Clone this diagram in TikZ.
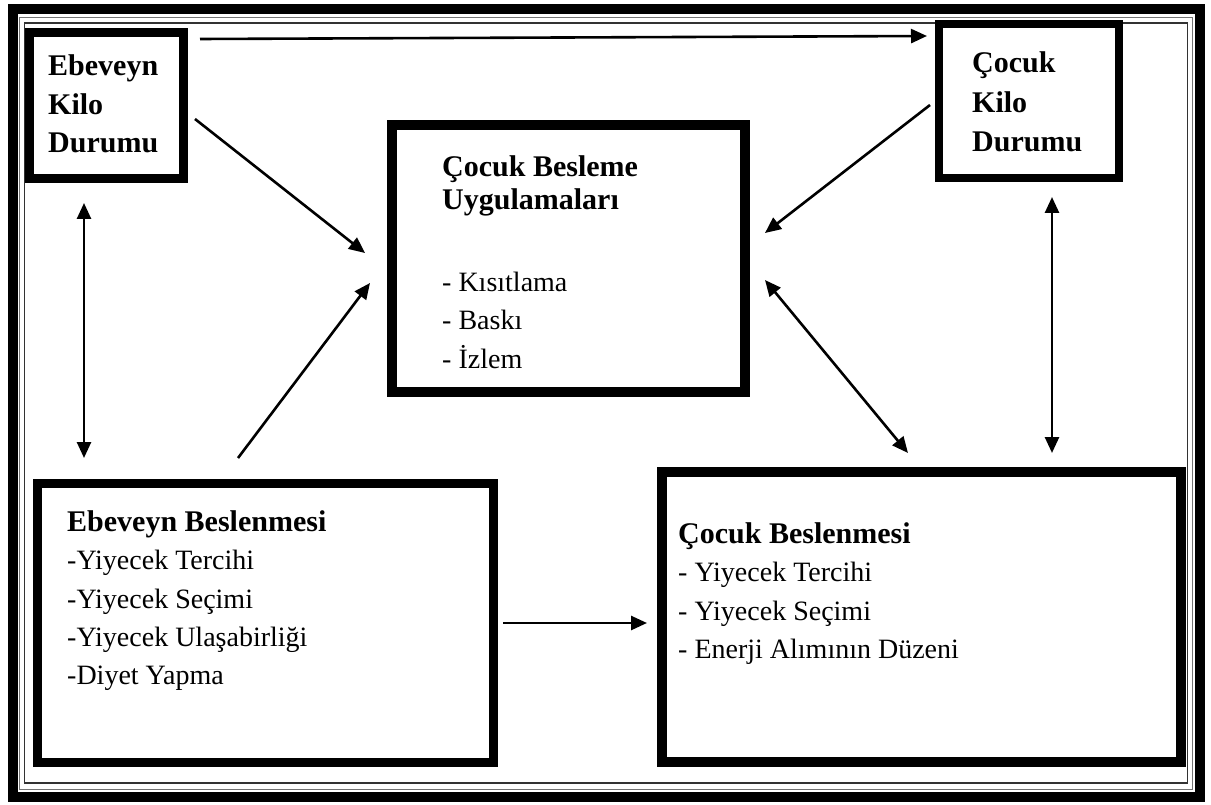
\documentclass[tikz,border=0pt]{standalone}
\usepackage{fontspec}
\setmainfont{Liberation Serif}
\usetikzlibrary{arrows.meta}
\begin{document}
\begin{tikzpicture}[x=1pt,y=-1pt,
  boxnode/.style={draw=black, inner sep=0pt, outer sep=0pt, fill=white},
  tipstyle/.style={},
  conn/.style={line width=2.6pt, -{Triangle[length=16pt,width=14pt]}},
  biconn/.style={line width=2.6pt, {Triangle[length=16pt,width=14pt]}-{Triangle[length=16pt,width=14pt]}},
  head/.style={anchor=base west, inner sep=0pt, font=\fontsize{30}{36}\selectfont\bfseries},
  item/.style={anchor=base west, inner sep=0pt, font=\fontsize{28}{36}\selectfont},
]
\useasboundingbox (0,0) rectangle (1211,805);
\fill[white] (0,0) rectangle (1211,805);
% outer frame
\draw[line width=10pt] (13,9) rectangle (1200,797);
\draw[line width=1.4pt, black!55] (19.5,17.5) rectangle (1192.5,789.5);
\draw[line width=1.4pt, black!80] (24.5,23) rectangle (1187.5,783);

% boxes
\node[boxnode, line width=9pt, minimum width=154pt, minimum height=146pt] (ekd) at (106.5,105.5) {};
\node[boxnode, line width=8pt, minimum width=180pt, minimum height=154pt] (ckd) at (1029,101) {};
\node[boxnode, line width=10pt, minimum width=353pt, minimum height=267pt] (cbu) at (568.5,258.5) {};
\node[boxnode, line width=9pt, minimum width=456pt, minimum height=279pt] (eb) at (265,622.5) {};
\node[boxnode, line width=10pt, minimum width=519pt, minimum height=290pt] (cb) at (921.5,617) {};

% texts
\node[head] (ekd1) at (48,76) {Ebeveyn};
\node[head] (ekd2) at (48,115) {Kilo};
\node[head] (ekd3) at (48,153) {Durumu};

\node[head] (ckd1) at (972,73) {Çocuk};
\node[head] (ckd2) at (972,113) {Kilo};
\node[head] (ckd3) at (972,152) {Durumu};

\node[head] (cbu1) at (442,177) {Çocuk Besleme};
\node[head] (cbu2) at (442,210) {Uygulamaları};
\node[item] (cbu3) at (442,292) {- Kısıtlama};
\node[item] (cbu4) at (442,330) {- Baskı};
\node[item] (cbu5) at (442,368) {- İzlem};

\node[head] (eb1) at (67,531) {Ebeveyn Beslenmesi};
\node[item] (eb2) at (67,569) {-Yiyecek Tercihi};
\node[item] (eb3) at (67,608) {-Yiyecek Seçimi};
\node[item] (eb4) at (67,646) {-Yiyecek Ulaşabirliği};
\node[item] (eb5) at (67,684) {-Diyet Yapma};

\node[head] (cb1) at (678,543) {Çocuk Beslenmesi};
\node[item] (cb2) at (678,581) {- Yiyecek Tercihi};
\node[item] (cb3) at (678,620) {- Yiyecek Seçimi};
\node[item] (cb4) at (678,658) {- Enerji Alımının Düzeni};

% connector end points
\coordinate (t1) at (200,39);   \coordinate (t2) at (927,36);
\coordinate (a1) at (195,119);  \coordinate (a2) at (365,253);
\coordinate (b1) at (930,105);  \coordinate (b2) at (765,233);
\coordinate (c1) at (238,458);  \coordinate (c2) at (370,283);
\coordinate (d1) at (765,280);  \coordinate (d2) at (908,453);
\coordinate (e1) at (84,203);   \coordinate (e2) at (84,458);
\coordinate (f1) at (1052,197); \coordinate (f2) at (1052,453);
\coordinate (g1) at (503,623);  \coordinate (g2) at (647,623);

\draw[conn] (t1) -- (t2);
\draw[conn] (a1) -- (a2);
\draw[conn] (b1) -- (b2);
\draw[conn] (c1) -- (c2);
\draw[biconn] (d1) -- (d2);
\draw[biconn] (e1) -- (e2);
\draw[biconn] (f1) -- (f2);
\draw[conn] (g1) -- (g2);
\end{tikzpicture}
\end{document}
